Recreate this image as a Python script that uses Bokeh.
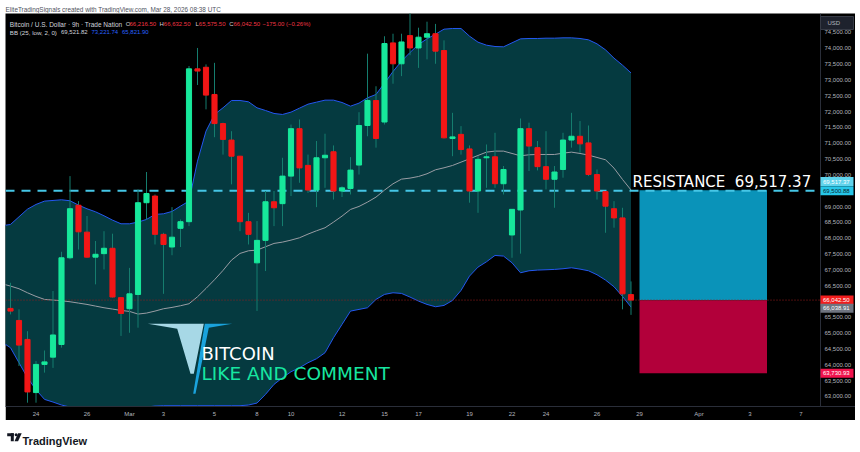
from bokeh.plotting import figure
from bokeh.layouts import column, row
from bokeh.models import (Range1d, FixedTicker, NumeralTickFormatter, Label, ColumnDataSource,
                          LinearAxis, Spacer)
from bokeh.core.properties import value
from bokeh.embed import file_html
from bokeh.resources import INLINE

# ---------------- data ----------------
OPEN = [65780, 65400, 64800, 63120, 64010, 64240, 64640, 67380, 69040, 68190,
        67400, 67510, 67680, 66120, 65770, 66220, 69120, 69330, 68120, 67720,
        68310, 68520, 73350, 73400, 72540, 71620, 71100, 70590, 68520, 67220,
        67930, 69150, 69090, 69960, 71460, 70300, 69520, 70540, 70730, 69490,
        69570, 70310, 71560, 72350, 71670, 74170, 73510, 74400, 74010, 74350,
        74460, 73930, 71150, 71280, 70820, 69490, 70540, 70570, 69720, 68100,
        68890, 71460, 70860, 70260, 69860, 70170, 71100, 71220, 71010, 70010,
        69470, 68930, 68640, 66216.50]
HIGH = [66590, 65750, 65060, 64120, 64450, 66330, 67570, 69960, 69170, 68700,
        67910, 68220, 68140, 66140, 67060, 69540, 70090, 69380, 68170, 68980,
        68590, 73440, 74010, 73490, 73540, 71650, 71380, 70600, 68800, 68540,
        69490, 69490, 70540, 71590, 71750, 70640, 71070, 71300, 70930, 69640,
        70560, 71980, 73830, 72800, 74380, 74460, 74460, 75200, 74650, 74840,
        74770, 74250, 71960, 71540, 70930, 70590, 70960, 71330, 70280, 68910,
        71780, 71650, 71070, 71380, 70280, 71330, 71960, 71700, 71560, 70170,
        69470, 69170, 68960, 66632.50]
LOW = [65590, 63960, 62800, 62800, 63750, 63900, 64540, 67330, 67640, 67380,
       66540, 67010, 66120, 64910, 65010, 65170, 68590, 67800, 66240, 67460,
       67720, 68380, 72840, 72070, 71190, 70640, 69700, 68220, 67800, 65700,
       66960, 68380, 68380, 69330, 69750, 69430, 68980, 69590, 69220, 69300,
       69380, 70010, 71220, 70860, 71590, 72880, 73120, 73780, 73380, 73650,
       73510, 71150, 70590, 70640, 69120, 68800, 69590, 69590, 69380, 67380,
       67510, 70120, 70140, 69540, 68960, 69910, 70860, 70700, 69960, 69220,
       68170, 68330, 65750, 65575.50]
CLOSE = [65695, 64620, 63140, 64010, 64090, 64940, 67380, 68930, 68200, 67400,
         67490, 67680, 66140, 65620, 66240, 69120, 69410, 68120, 67800, 68030,
         68520, 73350, 73280, 72520, 71620, 71120, 70590, 68520, 68120, 67930,
         69150, 68960, 69960, 71460, 70220, 69520, 70540, 70620, 69490, 69590,
         70150, 71560, 72350, 71150, 74150, 73510, 74200, 74010, 74350, 74460,
         73910, 71170, 71200, 70800, 69490, 70490, 70570, 69720, 70170, 68910,
         71460, 70910, 70260, 69860, 70090, 71100, 71220, 70980, 70010, 69490,
         69010, 68640, 66240, 66042.50]

# Bollinger Bands (25, low, 2) - one value per bar, starting one bar before the first candle
BB_UPPER = [68391, 68433, 68675, 68917, 69065, 69170, 69191, 69212, 69181, 69044,
            68928, 68833, 68707, 68570, 68454, 68454, 68507, 68591, 68749, 68770,
            68844, 69012, 69170, 70434, 71382, 71908, 72119, 72350, 72350, 72308,
            72119, 72034, 71940, 71908, 71982, 72108, 72234, 72298, 72361, 72361,
            72287, 72171, 72266, 72435, 72540, 72898, 73266, 73593, 73867, 74119,
            74298, 74446, 74604, 74625, 74625, 74383, 74193, 74098, 74056, 74046,
            74172, 74298, 74309, 74309, 74319, 74319, 74330, 74330, 74309, 74267,
            74140, 73951, 73688, 73466, 73221.74]
BB_BASIS = [66559, 66485, 66401, 66274, 66159, 66064, 66043, 66022, 65990, 65948,
            65906, 65853, 65801, 65759, 65716, 65685, 65601, 65632, 65695, 65769,
            65811, 65864, 65927, 66148, 66411, 66685, 66980, 67306, 67517, 67601,
            67622, 67728, 67833, 67875, 67938, 68012, 68128, 68233, 68328, 68507,
            68696, 68907, 69002, 69139, 69297, 69518, 69718, 69865, 69897, 69949,
            70034, 70160, 70223, 70297, 70402, 70507, 70613, 70718, 70750, 70750,
            70676, 70602, 70634, 70644, 70644, 70644, 70686, 70718, 70676, 70623,
            70550, 70476, 70213, 69855, 69521.82]
BB_LOWER = [64716, 64537, 64063, 63589, 63210, 62905, 62821, 62726, 62663, 62620,
            62589, 62557, 62536, 62536, 62536, 62557, 62589, 62663, 62694, 62705,
            62705, 62705, 62705, 62705, 62705, 62705, 62705, 62705, 62705, 62726,
            62789, 63063, 63379, 63589, 63779, 63905, 64063, 64189, 64379, 64853,
            65274, 65695, 65748, 65801, 66064, 66222, 66274, 66253, 66138, 66011,
            65906, 65832, 65874, 66032, 66348, 66801, 67085, 67254, 67454, 67433,
            67222, 66906, 66969, 66991, 67001, 67012, 67033, 67064, 67022, 66969,
            66843, 66675, 66464, 66159, 65821.90]

X_TICKS = [3, 9, 14, 18, 24, 29, 33, 39, 44, 48, 54, 59, 63, 69, 74, 81, 87, 93]
X_TICK_LABELS = ["24", "26", "Mar", "3", "5", "8", "10", "12", "15", "17",
                 "19", "22", "24", "26", "29", "Apr", "3", "7"]
Y_TICKS = [63000, 63500, 64000, 64500, 65000, 65500, 66000, 66500, 67000, 67500,
           68000, 68500, 69000, 69500, 70000, 70500, 71000, 71500, 72000, 72500,
           73000, 73500, 74000, 74500]

RESISTANCE_LINE = 69500.88
TARGET = 69517.37
ENTRY = 66038.91
STOP = 63730.93
LAST_CLOSE = 66042.50
POS_START = 74
POS_END = 89

# ---------------- geometry helpers (page pixels) ----------------
Y_MIN, Y_MAX = 62680, 75099
FRAME_L, FRAME_R, FRAME_T, FRAME_B = 5, 820, 13, 406
PANE_R, PANE_B = 855, 420
BAR_PX, BAR0_PX = 8.5, 10.0
PX_PER_PRICE = (FRAME_B - FRAME_T) / (Y_MAX - Y_MIN)


def xd(px):
    return (px - BAR0_PX) / BAR_PX


def yd(py):
    return Y_MAX - (py - FRAME_T) / PX_PER_PRICE


def ypx(price):
    return FRAME_T + (Y_MAX - price) * PX_PER_PRICE


X_START, X_AXIS, X_END = xd(FRAME_L), xd(FRAME_R), xd(PANE_R)

GREEN = "#17e89b"
RED = "#f21616"
WICK = "#157d6e"
BAND_FILL = "#053a40"
BAND_LINE = "#2458f0"
BASIS = "#9a9da4"
AXIS_TXT = "#b2b5be"
SMALL = value("Liberation Sans")

p = figure(width=PANE_R - FRAME_L, height=PANE_B - FRAME_T, output_backend="svg",
           toolbar_location=None,
           x_range=Range1d(X_START, X_END), y_range=Range1d(Y_MIN, Y_MAX),
           y_axis_location=None,
           min_border_left=0, min_border_right=0,
           min_border_top=0, min_border_bottom=PANE_B - FRAME_B,
           background_fill_color="#000000", border_fill_color="#000000",
           outline_line_color=None)
p.grid.visible = False

# time axis
p.xaxis.ticker = FixedTicker(ticks=X_TICKS)
p.xaxis.major_label_overrides = {t: s for t, s in zip(X_TICKS, X_TICK_LABELS)}
# price axis, drawn at the right edge of the pane
yax = LinearAxis(fixed_location=X_AXIS, ticker=FixedTicker(ticks=Y_TICKS),
                 formatter=NumeralTickFormatter(format="0,0.00"))
p.add_layout(yax, "right")
for ax in (p.xaxis[0], yax):
    ax.axis_line_color = "#2a2e39"
    ax.major_tick_out = 0
    ax.major_tick_in = 0
    ax.minor_tick_out = 0
    ax.minor_tick_in = 0
    ax.major_tick_line_color = None
    ax.minor_tick_line_color = None
    ax.major_label_text_color = AXIS_TXT
    ax.major_label_text_font = "Liberation Sans"
    ax.major_label_text_font_size = "6px"
    ax.major_label_standoff = 4

# Bollinger band
bx = list(range(-1, len(OPEN)))
p.varea(x=bx, y1=BB_LOWER, y2=BB_UPPER, fill_color=BAND_FILL)
p.line(bx, BB_UPPER, line_color=BAND_LINE, line_width=1)
p.line(bx, BB_LOWER, line_color=BAND_LINE, line_width=1)
p.line(bx, BB_BASIS, line_color=BASIS, line_width=1)

# position tool boxes
p.quad(left=[POS_START], right=[POS_END], top=[TARGET], bottom=[ENTRY],
       fill_color="#0a93b9", line_color=None)
p.quad(left=[POS_START], right=[POS_END], top=[ENTRY], bottom=[STOP],
       fill_color="#b2003a", line_color=None)

# horizontal lines across the pane
p.segment(x0=[X_START], x1=[X_AXIS], y0=[LAST_CLOSE], y1=[LAST_CLOSE],
          line_color="#9a1c1c", line_width=1, line_dash="1 2")
p.segment(x0=[X_START], x1=[X_AXIS], y0=[RESISTANCE_LINE], y1=[RESISTANCE_LINE],
          line_color="#45c6e6", line_width=2, line_dash="9 7")

# candles
idx = list(range(len(OPEN)))
src = ColumnDataSource(dict(
    x=idx, o=OPEN, h=HIGH, l=LOW, c=CLOSE,
    top=[max(o, c) for o, c in zip(OPEN, CLOSE)],
    bot=[min(o, c) for o, c in zip(OPEN, CLOSE)],
    col=[GREEN if c >= o else RED for o, c in zip(OPEN, CLOSE)]))
p.segment(x0="x", y0="h", x1="x", y1="l", source=src, line_color=WICK, line_width=1)
p.vbar(x="x", width=0.6, top="top", bottom="bot", fill_color="col", line_color="col",
       line_width=1, source=src)

# overlay logo
p.patch([xd(v) for v in (147.3, 203.3, 193.3, 190.0, 176.7)],
        [yd(v) for v in (323.3, 323.3, 373.3, 373.3, 328.3)],
        fill_color="#a7d8e6", line_color=None)
p.patch([xd(v) for v in (204.3, 231.7, 208.3, 195.0, 192.7)],
        [yd(v) for v in (323.3, 323.3, 327.3, 393.3, 393.3)],
        fill_color="#1aa3dc", line_color=None)
p.text(x=[xd(201)], y=[yd(352.7)], text=["BITCOIN"], text_font=value("DejaVu Sans"),
       text_font_size="18px", text_color="#ffffff", text_baseline="alphabetic")
p.text(x=[xd(201)], y=[yd(373.3)], text=["LIKE AND COMMENT"], text_font=value("DejaVu Sans"),
       text_font_size="18.5px", text_color="#17e6a1", text_baseline="alphabetic")
p.text(x=[xd(632)], y=[yd(181.5)], text=["RESISTANCE\u00a0 69,517.37"], text_font=value("DejaVu Sans"),
       text_font_size="15px", text_color="#ffffff", text_baseline="alphabetic")


def lab(px, py, text, color, size="6px"):
    p.add_layout(Label(x=xd(px), y=yd(py), text=text, text_color=color,
                       text_font="Liberation Sans", text_font_size=size,
                       text_baseline="alphabetic"))


# legend lines
GRAY = "#d1d4dc"
LRED = "#f23645"
BLUE = "#2962ff"
lab(9.3, 23.5, "Bitcoin / U.S. Dollar · 9h · Trade Nation", GRAY, size="6.5px")
for (lx, letter, vx, val) in [(125.3, "O", 129.0, "66,216.50"), (159.0, "H", 163.3, "66,632.50"),
                               (195.0, "L", 198.3, "65,575.50"), (228.7, "C", 233.0, "66,042.50")]:
    lab(lx, 23.5, letter, GRAY)
    lab(vx, 23.5, val, LRED)
lab(262, 23.5, "\u2212175.00 (\u22120.26%)", LRED)
lab(9.3, 31.5, "BB (25, low, 2, 0)", GRAY, size="6.2px")
lab(60.5, 31.5, "69,521.82", GRAY)
lab(91.0, 31.5, "73,221.74", BLUE)
lab(121.5, 31.5, "65,821.90", BLUE)


# price-axis tags (drawn above the price axis labels)
def price_tag(center_px, text, bg, fg, half=4.5, text_px=822.5, border=None):
    p.quad(left=[X_AXIS], right=[xd(PANE_R - 2)], top=[yd(center_px - half)],
           bottom=[yd(center_px + half)], fill_color=bg,
           line_color=border, level="annotation")
    p.text(x=[xd(text_px)], y=[yd(center_px)], text=[text], text_font=SMALL,
           text_font_size="6px", text_color=fg, text_baseline="middle", level="annotation")


price_tag(ypx(TARGET) - 8.6, "69,517.37", "#5fd3ec", "#ffffff")
price_tag(ypx(RESISTANCE_LINE), "69,500.88", "#26c6e8", "#0b1e2e")
price_tag(ypx(LAST_CLOSE), "66,042.50", "#f21d1d", "#ffffff")
price_tag(ypx(ENTRY) + 8.0, "66,038.91", "#6f7480", "#ffffff")
price_tag(ypx(STOP), "63,730.93", "#f0134d", "#ffffff")
price_tag(22.5, "USD", "#1e222d", AXIS_TXT, half=6.5, text_px=827, border="#363a45")

# ---- top strip (watermark) ----
top = figure(width=860, height=FRAME_T, output_backend="svg", toolbar_location=None,
             x_range=Range1d(0, 860), y_range=Range1d(FRAME_T, 0),
             x_axis_location=None, y_axis_location=None, min_border=0,
             background_fill_color="#ffffff", border_fill_color="#ffffff",
             outline_line_color=None)
top.grid.visible = False
top.text(x=[5], y=[9], text=["EliteTradingSignals created with TradingView.com, Mar 28, 2026 08:38 UTC"],
         text_font=value("Liberation Sans"), text_font_size="6.4px", text_color="#50535e",
         text_baseline="alphabetic")

# ---- bottom strip (TradingView footer) ----
bot = figure(width=860, height=452 - PANE_B, output_backend="svg", toolbar_location=None,
             x_range=Range1d(0, 860), y_range=Range1d(452, PANE_B),
             x_axis_location=None, y_axis_location=None, min_border=0,
             background_fill_color="#ffffff", border_fill_color="#ffffff",
             outline_line_color=None)
bot.grid.visible = False
LOGO = "#131722"
bot.quad(left=[6.7, 10.3], right=[13.3, 13.3], top=[432.7, 432.7], bottom=[435.7, 440.7],
         fill_color=LOGO, line_color=None)
bot.circle(x=[15.6], y=[434.2], radius=1.5, fill_color=LOGO, line_color=None)
bot.patch([17.6, 21.2, 17.6, 14.0], [432.7, 432.7, 440.7, 440.7], fill_color=LOGO, line_color=None)
bot.text(x=[22], y=[440.7], text=["TradingView"], text_font=value("Liberation Sans"),
         text_font_size="11px", text_font_style="bold", text_color=LOGO, text_baseline="alphabetic")

layout = column(top,
                row(Spacer(width=FRAME_L, height=PANE_B - FRAME_T), p,
                    Spacer(width=860 - PANE_R, height=PANE_B - FRAME_T)),
                bot)

open("out.html", "w").write(file_html(layout, INLINE))
